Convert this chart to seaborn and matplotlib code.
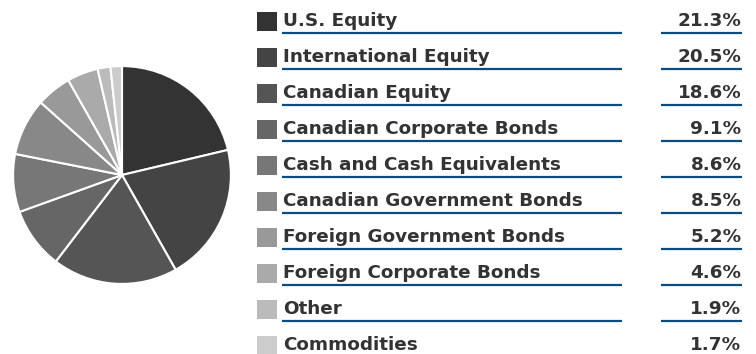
import matplotlib
matplotlib.use("Agg")
import matplotlib.pyplot as plt
import seaborn as sns

categories = [
    "U.S. Equity",
    "International Equity",
    "Canadian Equity",
    "Canadian Corporate Bonds",
    "Cash and Cash Equivalents",
    "Canadian Government Bonds",
    "Foreign Government Bonds",
    "Foreign Corporate Bonds",
    "Other",
    "Commodities",
]
weights = [21.3, 20.5, 18.6, 9.1, 8.6, 8.5, 5.2, 4.6, 1.9, 1.7]
value_labels = ["21.3%", "20.5%", "18.6%", "9.1%", "8.6%", "8.5%", "5.2%", "4.6%", "1.9%", "1.7%"]
grays = ["#333333", "#444444", "#555555", "#666666", "#777777",
         "#888888", "#999999", "#aaaaaa", "#bbbbbb", "#cccccc"]

sns.set_theme(style="white")
plt.rcParams["font.family"] = ["DejaVu Sans"]
palette = sns.color_palette(grays)

W, H = 756, 354
fig = plt.figure(figsize=(W / 100, H / 100), dpi=100)

# pie on the left
ax = fig.add_axes([12 / W, (H - 285) / H, 220 / W, 220 / H])
ax.pie(weights, colors=palette, startangle=90, counterclock=False,
       radius=1.0, wedgeprops=dict(edgecolor="white", linewidth=1.5))
ax.set_xlim(-1.01, 1.01)
ax.set_ylim(-1.01, 1.01)
ax.set_aspect("equal")
ax.axis("off")

# legend table on the right (pixel coordinates, y downwards)
lax = fig.add_axes([0, 0, 1, 1])
lax.set_xlim(0, W)
lax.set_ylim(H, 0)
lax.axis("off")

row_step = 36.0
line_color = "#0d4a80"
for i, (name, val) in enumerate(zip(categories, value_labels)):
    top = 12 + i * row_step
    base = top + 14.0
    lax.add_patch(plt.Rectangle((257, top), 19.5, 19, color=palette[i], lw=0))
    lax.text(283, base, name, ha="left", va="baseline", fontsize=13.2,
             fontweight="bold", color="#333333")
    lax.text(741.5, base, val, ha="right", va="baseline", fontsize=13.2,
             fontweight="bold", color="#333333")
    if i < len(categories) - 1:
        ly = top + 20.7
        lax.plot([282, 622], [ly, ly], color=line_color, lw=1.6, solid_capstyle="butt")
        lax.plot([661, 742], [ly, ly], color=line_color, lw=1.6, solid_capstyle="butt")

fig.savefig("out.png", dpi=100)
